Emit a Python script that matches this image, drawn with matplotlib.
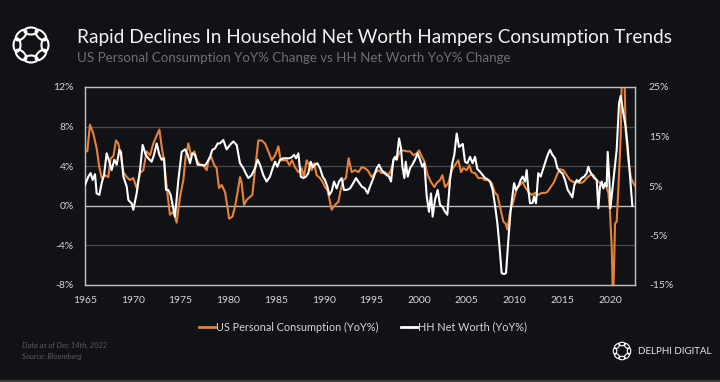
import numpy as np
import matplotlib.pyplot as plt
from matplotlib.patches import Ellipse, Rectangle

# US personal consumption YoY% (left axis)
cons_year = [1965.00, 1965.24, 1965.52, 1965.87, 1966.22, 1966.50, 1966.75, 1967.10, 1967.44, 1967.69,
             1967.97, 1968.25, 1968.49, 1968.74, 1969.02, 1969.37, 1969.71, 1970.06, 1970.41, 1970.76,
             1971.11, 1971.46, 1971.81, 1972.16, 1972.51, 1972.79, 1973.03, 1973.28, 1973.63, 1973.90,
             1974.25, 1974.60, 1974.95, 1975.30, 1975.55, 1975.83, 1976.10, 1976.46, 1976.73, 1977.05,
             1977.40, 1977.75, 1977.92, 1978.20, 1978.55, 1978.79, 1979.04, 1979.32, 1979.67, 1979.95,
             1980.09, 1980.44, 1980.71, 1980.99, 1981.24, 1981.41, 1981.66, 1981.94, 1982.29, 1982.53,
             1982.81, 1983.16, 1983.51, 1983.86, 1984.21, 1984.56, 1984.91, 1985.26, 1985.50, 1985.78,
             1986.13, 1986.41, 1986.69, 1987.00, 1987.35, 1987.70, 1987.94, 1988.22, 1988.50, 1988.75,
             1988.99, 1989.27, 1989.62, 1989.90, 1990.14, 1990.39, 1990.67, 1990.84, 1991.19, 1991.54,
             1991.79, 1992.06, 1992.34, 1992.62, 1992.94, 1993.29, 1993.64, 1993.99, 1994.33, 1994.68,
             1995.03, 1995.38, 1995.73, 1996.08, 1996.43, 1996.78, 1997.06, 1997.41, 1997.65, 1998.00,
             1998.35, 1998.70, 1999.05, 1999.40, 1999.75, 1999.99, 2000.27, 2000.55, 2000.90, 2001.25,
             2001.60, 2001.84, 2002.19, 2002.44, 2002.72, 2003.07, 2003.41, 2003.76, 2004.11, 2004.40,
             2004.64, 2004.99, 2005.27, 2005.51, 2005.86, 2006.21, 2006.56, 2006.91, 2007.26, 2007.61,
             2007.95, 2008.20, 2008.48, 2008.83, 2009.07, 2009.25, 2009.53, 2009.81, 2010.05, 2010.29,
             2010.57, 2010.85, 2011.10, 2011.45, 2011.80, 2012.15, 2012.49, 2012.84, 2013.19, 2013.44,
             2013.79, 2014.14, 2014.52, 2014.76, 2015.11, 2015.46, 2015.81, 2016.16, 2016.51, 2016.86,
             2017.21, 2017.56, 2017.91, 2018.26, 2018.61, 2018.95, 2019.30, 2019.55, 2019.83, 2020.00,
             2020.18, 2020.32, 2020.53, 2020.70, 2020.87, 2021.12, 2021.29, 2021.47, 2021.64, 2021.92,
             2022.20, 2022.45, 2022.62]
cons_yoy = [5.6, 5.5, 8.2, 7.3, 5.8, 3.9, 2.8, 3.1, 2.9, 4.8,
            5.0, 6.6, 6.3, 5.1, 3.4, 2.9, 2.6, 2.8, 1.8, 3.3,
            3.6, 5.5, 5.1, 6.3, 7.1, 7.7, 6.0, 4.5, 1.3, -0.9,
            -0.6, -1.7, 0.9, 2.6, 5.0, 6.3, 5.1, 5.5, 4.6, 4.1,
            4.1, 3.6, 4.5, 5.0, 4.1, 3.8, 1.8, 2.1, 1.4, -0.3,
            -1.3, -1.1, -0.1, 1.4, 2.9, 2.3, 0.1, 0.6, 0.9, 1.1,
            3.6, 6.6, 6.6, 6.3, 5.5, 4.6, 5.1, 6.0, 4.6, 4.6,
            4.6, 4.1, 4.6, 3.9, 3.4, 3.8, 2.9, 4.6, 4.1, 3.6,
            4.3, 3.1, 2.8, 2.4, 1.9, 1.6, 0.4, -0.4, 0.1, 0.4,
            1.6, 2.6, 2.8, 4.8, 3.4, 3.6, 3.4, 3.9, 3.8, 3.5,
            2.9, 3.3, 3.6, 3.3, 3.4, 3.1, 3.6, 4.8, 4.7, 5.5,
            5.6, 5.5, 5.5, 5.1, 5.3, 5.6, 5.0, 4.5, 3.1, 2.4,
            1.9, 2.3, 2.6, 3.1, 1.9, 2.3, 3.6, 4.1, 4.6, 3.4,
            3.8, 3.6, 4.1, 3.4, 3.3, 2.8, 2.8, 2.6, 2.6, 2.3,
            1.3, 1.1, -0.1, -1.6, -1.8, -2.4, -0.6, 0.2, 1.1, 1.9,
            2.1, 2.4, 1.9, 1.4, 1.1, 1.3, 1.1, 1.3, 1.3, 1.4,
            1.9, 2.4, 3.3, 3.7, 3.6, 3.1, 2.6, 2.4, 2.4, 2.3,
            2.4, 2.8, 3.1, 3.1, 2.6, 2.3, 1.9, 2.1, 1.3, -0.6,
            -4.1, -10.0, -1.8, -1.6, 1.6, 7.0, 16.0, 15.0, 7.6, 4.6,
            2.8, 2.3, 2.0]

# Household net worth YoY% (right axis)
nw_year = [1965.00, 1965.35, 1965.59, 1965.80, 1966.05, 1966.22, 1966.50, 1966.75, 1966.99, 1967.27,
           1967.55, 1967.79, 1968.07, 1968.32, 1968.60, 1968.77, 1969.02, 1969.37, 1969.54, 1969.71,
           1969.89, 1970.06, 1970.41, 1970.76, 1971.04, 1971.36, 1971.63, 1971.98, 1972.23, 1972.51,
           1972.79, 1973.03, 1973.28, 1973.49, 1973.73, 1973.97, 1974.25, 1974.43, 1974.78, 1975.13,
           1975.48, 1975.76, 1976.00, 1976.24, 1976.52, 1976.80, 1977.15, 1977.50, 1977.75, 1978.10,
           1978.34, 1978.62, 1978.90, 1979.14, 1979.49, 1979.84, 1980.19, 1980.54, 1980.89, 1981.24,
           1981.59, 1981.83, 1982.11, 1982.46, 1982.81, 1983.09, 1983.33, 1983.68, 1984.03, 1984.38,
           1984.66, 1984.91, 1985.15, 1985.43, 1985.78, 1986.13, 1986.41, 1986.65, 1986.90, 1987.11,
           1987.35, 1987.60, 1987.87, 1988.15, 1988.40, 1988.64, 1988.85, 1989.10, 1989.34, 1989.62,
           1989.90, 1990.14, 1990.39, 1990.60, 1990.84, 1991.09, 1991.37, 1991.61, 1991.89, 1992.13,
           1992.41, 1992.76, 1993.11, 1993.39, 1993.64, 1993.99, 1994.33, 1994.61, 1994.86, 1995.21,
           1995.56, 1995.80, 1996.08, 1996.36, 1996.61, 1996.85, 1997.06, 1997.30, 1997.48, 1997.65,
           1997.90, 1998.11, 1998.25, 1998.46, 1998.60, 1998.81, 1999.05, 1999.29, 1999.57, 1999.85,
           2000.10, 2000.34, 2000.55, 2000.80, 2001.04, 2001.25, 2001.42, 2001.67, 2001.95, 2002.19,
           2002.44, 2002.72, 2002.96, 2003.24, 2003.48, 2003.69, 2003.94, 2004.18, 2004.46, 2004.57,
           2004.81, 2005.06, 2005.34, 2005.61, 2005.86, 2006.10, 2006.38, 2006.66, 2006.91, 2007.15,
           2007.43, 2007.71, 2007.95, 2008.20, 2008.41, 2008.65, 2008.90, 2009.11, 2009.35, 2009.60,
           2009.81, 2009.95, 2010.15, 2010.40, 2010.64, 2010.85, 2011.10, 2011.27, 2011.45, 2011.62,
           2011.90, 2012.04, 2012.25, 2012.49, 2012.74, 2013.02, 2013.30, 2013.54, 2013.72, 2013.96,
           2014.24, 2014.49, 2014.76, 2015.01, 2015.29, 2015.57, 2015.81, 2016.06, 2016.27, 2016.51,
           2016.75, 2017.03, 2017.31, 2017.56, 2017.73, 2017.91, 2018.15, 2018.36, 2018.61, 2018.78,
           2018.95, 2019.13, 2019.30, 2019.48, 2019.65, 2019.76, 2019.93, 2020.04, 2020.25, 2020.46,
           2020.70, 2020.95, 2021.12, 2021.40, 2021.64, 2021.85, 2022.10, 2022.34]
nw_yoy = [5.2, 6.9, 7.6, 6.2, 7.4, 3.5, 3.2, 5.6, 7.2, 11.6,
          9.9, 8.2, 10.3, 9.3, 12.3, 11.9, 6.9, 4.9, 2.2, 1.8,
          1.5, 0.2, 3.5, 8.2, 13.3, 11.3, 10.6, 9.9, 11.3, 13.6,
          11.3, 10.3, 10.6, 4.2, 4.2, 3.2, 0.5, -1.2, 6.2, 11.9,
          12.4, 11.3, 9.6, 11.6, 11.3, 9.3, 9.3, 9.1, 9.6, 10.9,
          12.3, 12.6, 13.6, 13.6, 14.3, 12.4, 13.3, 14.0, 13.3, 9.6,
          8.6, 7.6, 6.6, 7.2, 8.6, 10.3, 9.3, 7.2, 5.9, 6.9,
          8.6, 9.9, 8.9, 10.3, 10.6, 10.6, 10.6, 10.8, 11.3, 10.6,
          11.6, 6.9, 6.6, 6.9, 7.6, 9.9, 8.8, 9.3, 9.6, 8.6,
          6.9, 6.2, 4.9, 3.2, 3.9, 5.9, 4.5, 5.9, 6.6, 4.2,
          4.2, 4.5, 5.6, 6.6, 5.9, 4.9, 4.5, 3.5, 4.9, 6.6,
          8.6, 9.3, 8.2, 7.6, 7.2, 6.9, 5.9, 10.3, 10.9, 10.3,
          14.6, 12.6, 8.9, 6.6, 9.9, 6.9, 8.6, 9.3, 10.3, 11.6,
          10.3, 8.9, 9.6, 2.9, -0.2, 3.5, -1.2, 2.2, 4.2, 1.2,
          0.8, -0.2, -0.8, 6.2, 9.6, 11.3, 15.6, 12.9, 13.3, 13.5,
          9.9, 9.6, 10.9, 9.6, 10.9, 8.4, 7.9, 7.2, 6.6, 6.4,
          5.9, 4.2, 1.2, -2.5, -6.9, -12.6, -12.8, -12.6, -5.9, 0.2,
          3.5, 5.6, 4.2, 4.9, 6.2, 6.9, 5.9, 8.2, 4.2, 1.5,
          1.6, 2.9, 1.5, 7.6, 6.9, 8.6, 10.3, 11.6, 12.3, 11.3,
          10.6, 8.6, 7.9, 7.6, 6.2, 4.2, 3.5, 2.7, 5.2, 6.2,
          5.9, 6.6, 6.9, 7.6, 8.9, 7.9, 7.2, 6.6, 6.2, 0.5,
          4.9, 5.9, 4.5, 5.6, 4.9, 11.9, 6.2, 0.5, 4.2, 7.9,
          12.3, 21.7, 23.2, 19.7, 17.0, 13.0, 6.9, 1.0]

year_ticks = [1965, 1970, 1975, 1980, 1985, 1990, 1995, 2000, 2005, 2010, 2015, 2020]
left_ticks = [-8, -4, 0, 4, 8, 12]
right_ticks = [-15, -5, 5, 15, 25]

bg = '#111215'
orange = '#E8823A'
tick_col = '#d6d6d6'
plt.rcParams['font.family'] = ['Lato', 'DejaVu Sans']

fig = plt.figure(figsize=(7.2, 3.82), dpi=100, facecolor=bg)
W, H = 720, 382

ax = fig.add_axes([85 / W, 1 - 285 / H, 550 / W, 198 / H])
ax.set_facecolor(bg)
ax.plot(cons_year, cons_yoy, color=orange, lw=1.5, zorder=3)
ax.set_xlim(1965, 2022.62)
ax.set_ylim(-8, 12)
ax.set_yticks(left_ticks)
ax.set_yticklabels([f'{t}%' for t in left_ticks])
ax.set_xticks(year_ticks)
for y in [-4, 4, 8]:
    ax.axhline(y, color='#4a4a4a', lw=0.9, zorder=1)
ax.axhline(0, color='#bdbdbd', lw=1.0, zorder=1)
for s in ax.spines.values():
    s.set_color('#bfbfbf')
    s.set_linewidth(0.9)
ax.tick_params(length=0, colors=tick_col, labelsize=7.5, pad=8)

ax2 = ax.twinx()
ax2.plot(nw_year, nw_yoy, color='white', lw=1.5, zorder=4)
ax2.set_ylim(-15, 25)
ax2.set_yticks(right_ticks)
ax2.set_yticklabels([f'{t}%' for t in right_ticks])
for s in ax2.spines.values():
    s.set_color('#bfbfbf')
    s.set_linewidth(0.9)
ax2.tick_params(length=0, colors=tick_col, labelsize=7.5, pad=10)

h1, = ax.plot([], [], color=orange, lw=2)
h2, = ax.plot([], [], color='white', lw=2)
leg = fig.legend([h1, h2], ['US Personal Consumption (YoY%)', 'HH Net Worth (YoY%)'],
                 loc='center', bbox_to_anchor=(363 / W, 1 - 327 / H), ncol=2, frameon=False,
                 fontsize=7.8, handlelength=1.5, handletextpad=0.1, columnspacing=2.0)
for t in leg.get_texts():
    t.set_color(tick_col)

# titles
fig.text(77 / W, 1 - 38 / H, 'Rapid Declines In Household Net Worth Hampers Consumption Trends',
         color='#f2f2f2', fontsize=13.7, va='center', ha='left')
fig.text(77 / W, 1 - 58 / H, 'US Personal Consumption YoY% Change vs HH Net Worth YoY% Change',
         color='#6f6f6f', fontsize=9.6, va='center', ha='left')

# footer
fig.text(22 / W, 1 - 345 / H, 'Data as of Dec 14th, 2022', color='#5c5c5c', fontsize=5.5,
         style='italic', va='center')
fig.text(22 / W, 1 - 356 / H, 'Source: Bloomberg', color='#5c5c5c', fontsize=5.5,
         style='italic', va='center')
fig.text(638 / W, 1 - 351 / H, 'DELPHI DIGITAL', color='#e8e8e8', fontsize=7, va='center',
         ha='left')


# ring logos
def ring_logo(cx, cy, r, lw):
    lax = fig.add_axes([(cx - r * 1.6) / W, 1 - (cy + r * 1.6) / H, r * 3.2 / W, r * 3.2 / H])
    lax.set_xlim(-1.6, 1.6)
    lax.set_ylim(-1.6, 1.6)
    lax.axis('off')
    for k in range(8):
        a = k * np.pi / 4
        lax.add_patch(Ellipse((np.cos(a), np.sin(a)), 0.95, 0.5, angle=np.degrees(a) + 90,
                              fill=False, ec='white', lw=lw))


ring_logo(31, 45, 14, 1.5)
ring_logo(622, 351, 7, 0.8)

fig.patches.append(Rectangle((0, 0), 1, 2 / H, transform=fig.transFigure, color='#3a3a3a'))

fig.savefig('out.png', dpi=100, facecolor=bg)
